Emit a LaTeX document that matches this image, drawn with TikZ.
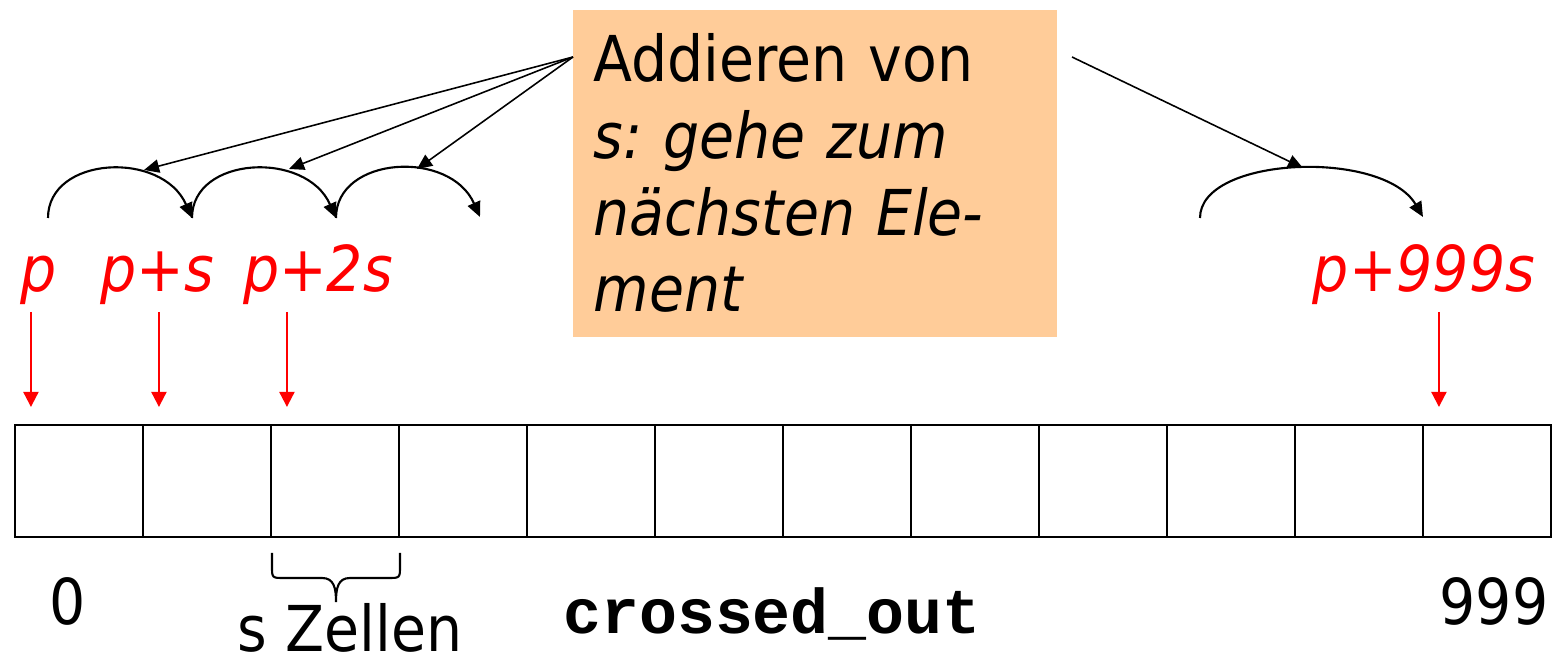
\documentclass[tikz,border=0pt]{standalone}
\usepackage{fontspec}
\setmainfont{DejaVu Sans Condensed}[
  ItalicFont={DejaVu Sans Condensed Oblique},
  BoldFont={DejaVu Sans Condensed Bold}]
\setmonofont{Liberation Mono}
\usetikzlibrary{arrows.meta}
\frenchspacing

\definecolor{notefill}{RGB}{255,204,153}
\newcommand{\bigtext}{\fontsize{18}{21.8}\selectfont}

\tikzset{
  cell/.style={draw, line width=0.6pt, minimum width=1.28cm, minimum height=1.12cm, inner sep=0pt},
  ptr/.style={red, line width=0.6pt, -{Triangle[length=4.3pt, width=4.3pt]}},
  hop/.style={line width=0.6pt, -{Triangle[length=4.3pt, width=3.8pt]}},
  hint/.style={line width=0.45pt, -{Triangle[length=4.3pt, width=3.8pt]}},
  idx/.style={font=\bigtext, red, anchor=base, inner sep=0pt},
  lbl/.style={font=\bigtext, anchor=base, inner sep=0pt},
  note/.style={fill=notefill, minimum width=4.84cm, minimum height=3.27cm, inner sep=0pt},
  notetext/.style={font=\bigtext, anchor=base west, text width=4.5cm, align=left, inner sep=0pt}
}

\begin{document}
\begin{tikzpicture}
  \useasboundingbox (0,0) rectangle (15.55,6.64);

  % array of 12 cells
  \foreach \i in {1,...,12}
    \node[cell] (c\i) at ({0.15+1.28*(\i-0.5)},1.83) {};

  % pointer names
  \node[idx] (lp0) at (0.39,3.72) {\textit{p}};
  \node[idx] (lp1) at (1.57,3.72) {\textit{p+s}};
  \node[idx] (lp2) at (3.18,3.72) {\textit{p+2s}};
  \node[idx] (lp9) at (14.24,3.72) {\textit{p+999s}};

  % pointers into the cells
  \foreach \i in {1,2,3,12}
    \draw[ptr] ([xshift=0.17cm,yshift=1.12cm]c\i.north west) -- ([xshift=0.17cm,yshift=0.17cm]c\i.north west);

  % hops of size s
  \coordinate (h0) at (0.48,4.46);
  \coordinate (h1) at (1.92,4.46);
  \coordinate (h2) at (3.36,4.46);
  \coordinate (h3) at (4.80,4.47);
  \coordinate (h8) at (12.00,4.46);
  \coordinate (h9) at (14.23,4.47);
  \draw[hop] (h0) .. controls +(0,0.62) and +(-0.3,0.68) .. (h1);
  \draw[hop] (h1) .. controls +(0,0.62) and +(-0.3,0.68) .. (h2);
  \draw[hop] (h2) .. controls +(0,0.62) and +(-0.3,0.68) .. (h3);
  \draw[hop] (h8) .. controls +(0,0.62) and +(-0.4,0.68) .. (h9);

  % note
  \node[note, anchor=north west] (note) at (5.72,6.55) {};
  \node[notetext] (txt) at (5.93,5.82) {Addieren von\\ \textit{s: gehe zum}\\ \textit{nächsten Ele-}\\ \textit{ment}};

  % note points at the hops
  \coordinate (src) at (5.73,6.07);
  \coordinate (src9) at (10.72,6.07);
  \coordinate (t1) at (1.44,4.94);
  \coordinate (t2) at (2.89,4.95);
  \coordinate (t3) at (4.17,4.95);
  \coordinate (t9) at (13.03,4.96);
  \foreach \t in {t1,t2,t3}
    \draw[hint] (src) -- (\t);
  \draw[hint] (src9) -- (t9);

  % brace under one cell
  \draw[line width=0.6pt] (2.72,1.11) -- (2.72,0.98) .. controls (2.72,0.86) .. (2.84,0.86)
    -- (3.22,0.86) .. controls (3.34,0.86) and (3.36,0.76) .. (3.36,0.62)
    .. controls (3.36,0.76) and (3.38,0.86) .. (3.50,0.86)
    -- (3.88,0.86) .. controls (4.00,0.86) .. (4.00,0.98) -- (4.00,1.11);

  % indices
  \node[lbl] (n0) at (0.68,0.39) {0};
  \node[lbl] (n9) at (14.94,0.39) {999};
  \node[lbl] (sz) at (3.50,0.12) {s Zellen};
  \node[lbl, font=\ttfamily\bfseries\bigtext] (arr) at (7.72,0.30) {crossed\_out};
\end{tikzpicture}
\end{document}
